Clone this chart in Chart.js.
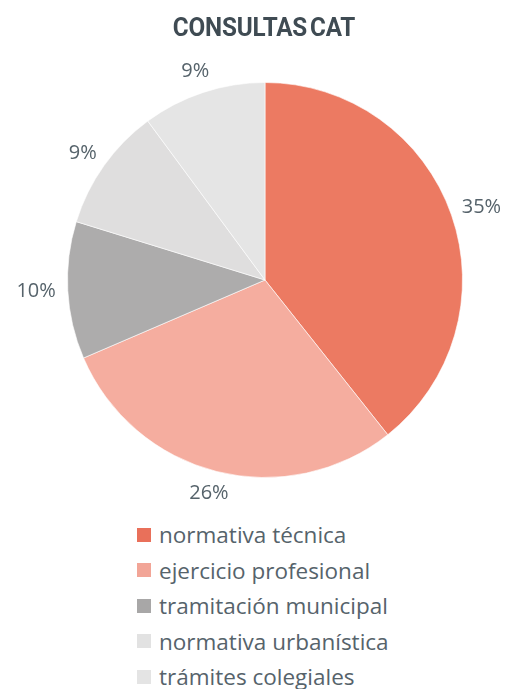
<!DOCTYPE html>
<html>
<head>
<meta charset="utf-8">
<script src="https://cdn.jsdelivr.net/npm/chart.js@4.4.1/dist/chart.umd.min.js"></script>
<style>
  html, body { margin: 0; padding: 0; background: #ffffff; }
  #wrap { position: relative; width: 505px; height: 689px; overflow: hidden; }
  #chartBox { position: absolute; left: 0; top: 0; width: 505px; height: 515px; }
  #title { position: absolute; left: 264px; top: 12px; line-height: 30px; white-space: nowrap;
           font-family: Roboto, sans-serif; font-weight: 700; font-size: 25.5px; color: #3f4b53;
           letter-spacing: -0.2px; word-spacing: -3px;
           transform: translateX(-50%) scaleX(0.95); transform-origin: 50% 50%; }
  #legend { position: absolute; left: 137px; top: 517px; font-family: "Open Sans", sans-serif; font-size: 22.5px; color: #56636b; }
  .row { height: 35.5px; display: flex; align-items: center; white-space: nowrap; }
  .sw { width: 14px; height: 14px; margin-right: 8px; flex: none; }
</style>
</head>
<body>
<div id="wrap">
  <div id="chartBox"><canvas id="c"></canvas></div>
  <div id="title"></div>
  <div id="legend"></div>
</div>
<script>
const categories = ["normativa técnica", "ejercicio profesional", "tramitación municipal", "normativa urbanística", "trámites colegiales"];
const values = [35, 26, 10, 9, 9];
const valueLabels = ["35%", "26%", "10%", "9%", "9%"];
const sliceColors = ["#EC7A62", "#F5AD9F", "#ADACAC", "#DFDEDE", "#E5E5E5"];
const legendColors = ["#E9705A", "#F2A597", "#A8A7A7", "#E2E2E2", "#E4E4E4"];
const titleText = "CONSULTAS CAT";

document.getElementById("title").textContent = titleText;

const outsideLabels = {
  id: "outsideLabels",
  afterDatasetsDraw(chart) {
    const ctx = chart.ctx;
    const meta = chart.getDatasetMeta(0);
    ctx.save();
    ctx.font = "20px 'Open Sans', sans-serif";
    ctx.fillStyle = "#56636b";
    ctx.textAlign = "center";
    ctx.textBaseline = "middle";
    meta.data.forEach((arc, i) => {
      const p = arc.getProps(["x", "y", "startAngle", "endAngle", "outerRadius"], true);
      const mid = (p.startAngle + p.endAngle) / 2;
      const gap = 12;
      const ax = p.x + Math.cos(mid) * (p.outerRadius + gap);
      const ay = p.y + Math.sin(mid) * (p.outerRadius + gap);
      const w = ctx.measureText(valueLabels[i]).width;
      const h = 20;
      const tx = ax + Math.cos(mid) * w / 2;
      const ty = ay + Math.sin(mid) * h / 2;
      ctx.fillText(valueLabels[i], tx, ty);
    });
    ctx.restore();
  }
};

new Chart(document.getElementById("c"), {
  type: "pie",
  data: {
    labels: categories,
    datasets: [{
      data: values,
      backgroundColor: sliceColors,
      borderColor: "rgba(255,255,255,0.6)",
      borderWidth: 1
    }]
  },
  options: {
    responsive: true,
    maintainAspectRatio: false,
    animation: false,
    layout: { padding: { left: 25, right: 0, top: 82, bottom: 37 } },
    plugins: {
      legend: { display: false },
      tooltip: { enabled: false },
      title: { display: false }
    }
  },
  plugins: [outsideLabels]
});

const legendEl = document.getElementById("legend");
categories.forEach((name, i) => {
  const row = document.createElement("div");
  row.className = "row";
  const sw = document.createElement("span");
  sw.className = "sw";
  sw.style.background = legendColors[i];
  const tx = document.createElement("span");
  tx.textContent = name;
  row.appendChild(sw);
  row.appendChild(tx);
  legendEl.appendChild(row);
});
</script>
</body>
</html>
